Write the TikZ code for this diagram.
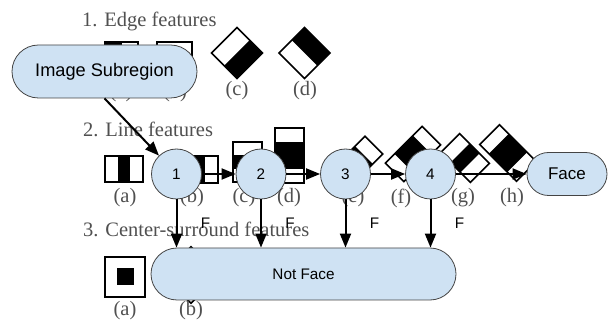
\documentclass[tikz,border=0pt]{standalone}
\usepackage{fontspec}
\setmainfont{Liberation Serif}
\newfontfamily\arialfont{Liberation Sans}
\usetikzlibrary{arrows.meta}
\definecolor{boxblue}{HTML}{CFE2F3}
\definecolor{boxline}{HTML}{444444}
\definecolor{scangray}{HTML}{505050}

\begin{document}
\begin{tikzpicture}[x=1pt,y=-1pt]
\useasboundingbox (0,0) rectangle (608,320);

\tikzset{Feat/.style={draw=black,line width=1.6pt},
         FeatText/.style={text=scangray,inner sep=0pt,font=\fontsize{20.5}{24}\selectfont}}

% Scanned feature table (background)
\node [FeatText, anchor=base west] (T1) at (82,27) {1. Edge features};
\node [FeatText, anchor=base west] (T2) at (83,137) {2. Line features};
\node [FeatText, anchor=base west] (T3) at (83,237) {3. Center-surround features};

% edge features
\fill (105,42) rectangle (121.5,75);
\draw [Feat] (105,42) rectangle (138,75);
\fill (157,58.5) rectangle (192,75);
\draw [Feat] (157,42) rectangle (192,75);
\begin{scope}[shift={(237,53)},rotate=45]
    \fill (-18,0) rectangle (18,18);
    \draw [Feat] (-18,-18) rectangle (18,18);
\end{scope}
\begin{scope}[shift={(304.5,53)},rotate=45]
    \fill (0,-18) rectangle (18,18);
    \draw [Feat] (-18,-18) rectangle (18,18);
\end{scope}
\node [FeatText] (ea) at (121,93) {(a)};
\node [FeatText] (eb) at (175,93) {(b)};
\node [FeatText] (ec) at (237,91) {(c)};
\node [FeatText] (ed) at (305,91) {(d)};

% line features
\fill (117.7,156) rectangle (130.3,182);
\draw [Feat] (105,156) rectangle (143,182);
\fill (179,156) rectangle (205,183);
\draw [Feat] (166,156) rectangle (218,183);
\fill (233,155.3) rectangle (262,168.7);
\draw [Feat] (233,142) rectangle (262,182);
\fill (275,141.75) rectangle (304,169.25);
\draw [Feat] (275,128) rectangle (304,183);
\begin{scope}[shift={(359,160)},rotate=45]
    \fill (-7,-12.5) rectangle (7,12.5);
    \draw [Feat] (-21,-12.5) rectangle (21,12.5);
\end{scope}
\begin{scope}[shift={(413,154)},rotate=45]
    \fill (-13,-13) rectangle (13,13);
    \draw [Feat] (-26,-13) rectangle (26,13);
\end{scope}
\begin{scope}[shift={(465,158)},rotate=45]
    \fill (-13.5,-7) rectangle (13.5,7);
    \draw [Feat] (-13.5,-21) rectangle (13.5,21);
\end{scope}
\begin{scope}[shift={(508,153)},rotate=45]
    \fill (-14,-13) rectangle (14,13);
    \draw [Feat] (-14,-26) rectangle (14,26);
\end{scope}
\node [FeatText] (la) at (125,198) {(a)};
\node [FeatText] (lb) at (192,198) {(b)};
\node [FeatText] (lc) at (244,198) {(c)};
\node [FeatText] (ld) at (289,198) {(d)};
\node [FeatText] (le) at (353,198) {(e)};
\node [FeatText] (lf) at (401,198) {(f)};
\node [FeatText] (lg) at (463,198) {(g)};
\node [FeatText] (lh) at (512,198) {(h)};

% center-surround features
\fill (116.5,268.5) rectangle (133.5,285.5);
\draw [Feat, line width=2pt] (105,257) rectangle (145,297);
\begin{scope}[shift={(191,275)},rotate=45]
    \fill (-8,-8) rectangle (8,8);
    \draw [Feat] (-20,-20) rectangle (20,20);
\end{scope}
\node [FeatText] (ca) at (125,311) {(a)};
\node [FeatText] (cb) at (191,311) {(b)};

% Cascade diagram
\begin{scope}[every node/.style={draw=boxline,fill=boxblue,line width=0.8pt,
              font=\arialfont\fontsize{15.3}{18}\selectfont}]
    \node (S) at (104.5,71.5) [rectangle, rounded corners=26.5pt,
        minimum width=185pt, minimum height=53pt,
        font=\arialfont\fontsize{18.2}{21}\selectfont] {Image Subregion};

    \node (A) at (176.5,174) [circle, minimum size=50pt] {1};
    \node (B) at (261,174) [circle, minimum size=50pt] {2};
    \node (C) at (345.5,174) [circle, minimum size=50pt] {3};
    \node (D) at (430.5,174) [circle, minimum size=50pt] {4};

    \node (F) at (567,174) [rectangle, rounded corners=21.5pt,
        minimum width=80pt, minimum height=43pt,
        font=\arialfont\fontsize{17}{20}\selectfont] {Face};

    \node (N) at (303.5,274) [rectangle, rounded corners=26pt,
        minimum width=305pt, minimum height=52pt] {Not Face};
\end{scope}

\tikzset{RejectLabel/.style={inner sep=0pt,text=black,
         font=\arialfont\fontsize{15.3}{18}\selectfont}}

\begin{scope}[>={Triangle[length=14pt,width=11pt]},
              every edge/.style={draw=black,line width=2pt}]
    \path [->] (S.south) edge (A);

    \path [->] (A) edge (B);
    \path [->] (B) edge (C);
    \path [->] (C) edge (D);
    \path [->] (D) edge (F);

    \path [->] (A.south) edge node [RejectLabel, xshift=29pt] {F} (A.south |- N.north);
    \path [->] (B.south) edge node [RejectLabel, xshift=29pt] {F} (B.south |- N.north);
    \path [->] (C.south) edge node [RejectLabel, xshift=29pt] {F} (C.south |- N.north);
    \path [->] (D.south) edge node [RejectLabel, xshift=29pt] {F} (D.south |- N.north);
\end{scope}

\end{tikzpicture}
\end{document}
